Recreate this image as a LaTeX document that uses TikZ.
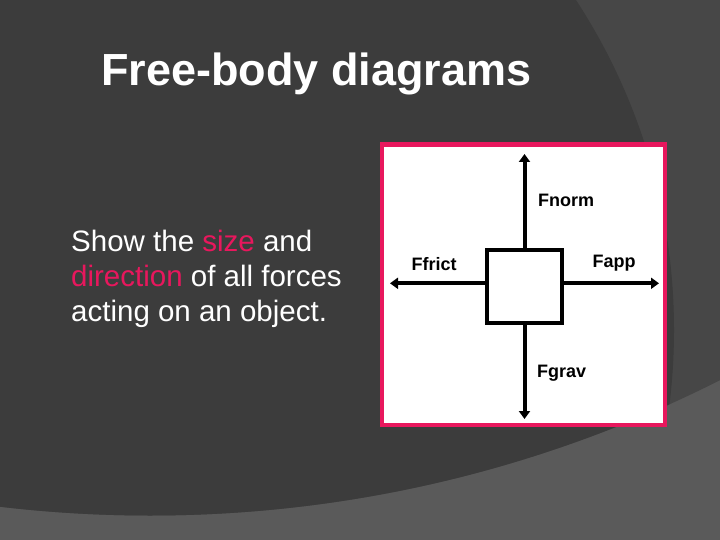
\documentclass[tikz,border=0pt]{standalone}
\usepackage{fontspec}
\setmainfont{Liberation Sans}
\usetikzlibrary{arrows.meta}
\definecolor{bgdark}{HTML}{3C3C3C}
\definecolor{bgmid}{HTML}{474747}
\definecolor{bglight}{HTML}{5A5A5A}
\definecolor{accent}{HTML}{E8175D}
\begin{document}
\begin{tikzpicture}[x=1pt,y=-1pt,
  force/.style={line width=4pt, -{Triangle[width=11pt,length=8pt]}},
  flabel/.style={font=\fontsize{18}{18}\selectfont\bfseries, text=black, inner sep=0pt, anchor=base west},
  bodytext/.style={font=\fontsize{29.5}{35}\selectfont, text=white, inner sep=0pt, anchor=base west},
]
\useasboundingbox (0,0) rectangle (720,540);
% background
\fill[bglight] (0,0) rectangle (720,540);
\begin{scope}
  \clip (150,-750) circle[radius=1265.5];
  \fill[bgmid] (0,0) rectangle (720,540);
  \fill[bgdark] (70,330) circle[radius=604];
\end{scope}
% title
\node[anchor=base west, inner sep=0pt, text=white, font=\fontsize{45}{45}\selectfont\bfseries] (title) at (101,86) {Free-body diagrams};
% body text
\node[bodytext] (l1) at (71,251.5) {Show the \textcolor{accent}{size} and};
\node[bodytext] (l2) at (71,286) {\textcolor{accent}{direction} of all forces};
\node[bodytext] (l3) at (71,321) {acting on an object.};
% diagram frame
\node[draw=accent, line width=4.5pt, fill=white, minimum width=283pt, minimum height=280.5pt, inner sep=0pt] (frame) at (523.5,284.75) {};
% object
\node[draw=black, line width=4pt, fill=white, minimum width=75pt, minimum height=73pt, inner sep=0pt] (obj) at (524.5,286.5) {};
\coordinate (ntip) at (524.5,154);
\coordinate (gtip) at (524.5,419);
\coordinate (ltip) at (390,283.3);
\coordinate (rtip) at (659,283.3);
\draw[force] (obj.north) -- (ntip);
\draw[force] (obj.south) -- (gtip);
\draw[force] (obj.west |- ltip) -- (ltip);
\draw[force] (obj.east |- rtip) -- (rtip);
% labels
\node[flabel] (fnorm) at (538,206.5) {Fnorm};
\node[flabel] (fapp) at (592.5,267.5) {Fapp};
\node[flabel] (ffrict) at (411.5,270.5) {Ffrict};
\node[flabel] (fgrav) at (537,377.5) {Fgrav};
\end{tikzpicture}
\end{document}
